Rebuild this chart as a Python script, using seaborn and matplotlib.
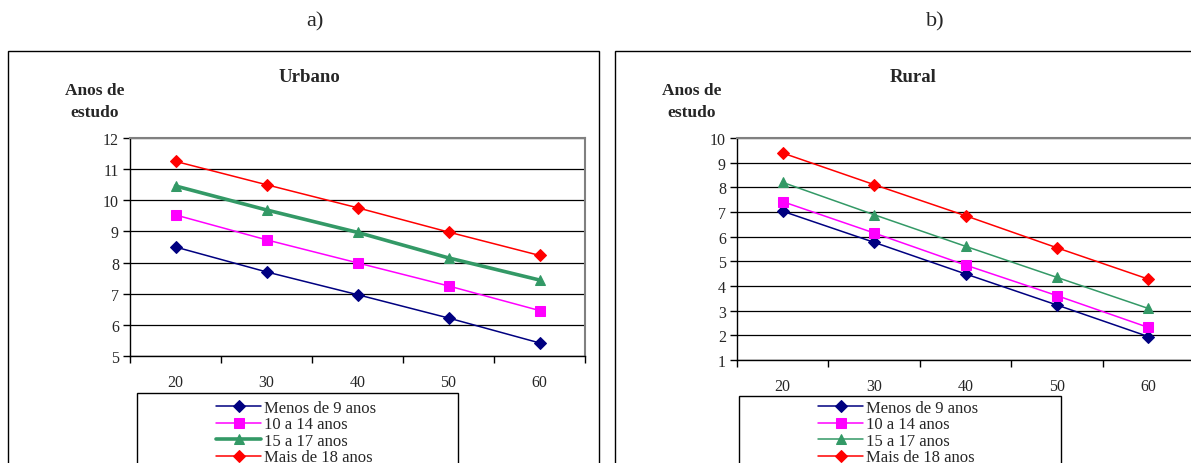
import matplotlib
matplotlib.use("Agg")
import matplotlib.pyplot as plt
from matplotlib.patches import Rectangle
import seaborn as sns
import pandas as pd

sns.set_style("white")
plt.rcParams['font.family'] = ['Liberation Serif', 'DejaVu Serif']

# idade (anos)
idades = [20, 30, 40, 50, 60]
grupos = ["Menos de 9 anos", "10 a 14 anos", "15 a 17 anos", "Mais de 18 anos"]

# anos de estudo - urbano
urb_menos9 = [8.50, 7.70, 6.97, 6.22, 5.42]
urb_10a14 = [9.53, 8.73, 7.99, 7.25, 6.46]
urb_15a17 = [10.46, 9.69, 8.97, 8.15, 7.44]
urb_mais18 = [11.25, 10.50, 9.76, 8.98, 8.23]

# anos de estudo - rural
rur_menos9 = [7.03, 5.77, 4.49, 3.23, 1.95]
rur_10a14 = [7.42, 6.15, 4.85, 3.61, 2.32]
rur_15a17 = [8.20, 6.89, 5.61, 4.35, 3.09]
rur_mais18 = [9.39, 8.11, 6.85, 5.55, 4.28]

cores = ["#000080", "#FF00FF", "#339966", "#FF0000"]
marcadores = ["D", "s", "^", "D"]
tam_marc = [6.5, 7, 7.5, 6.5]


def monta_df(series):
    linhas = []
    for g, vals in zip(grupos, series):
        for x, y in zip(idades, vals):
            linhas.append({'idade': x, 'anos': y, 'grupo': g})
    return pd.DataFrame(linhas)


df_urb = monta_df([urb_menos9, urb_10a14, urb_15a17, urb_mais18])
df_rur = monta_df([rur_menos9, rur_10a14, rur_15a17, rur_mais18])

fig = plt.figure(figsize=(11.91, 4.64), dpi=100)
W, H = 1191, 464


def fx(px):
    return px / W


def fy(py):
    return 1 - py / H


def painel(df, rect, ylim, larguras, titulo, tx, lx, box):
    ax = fig.add_axes(rect)
    for i, g in enumerate(grupos):
        sub = df[df['grupo'] == g]
        sns.lineplot(data=sub, x='idade', y='anos', ax=ax, color=cores[i],
                     marker=marcadores[i], markersize=tam_marc[i],
                     markeredgecolor=cores[i], lw=larguras[i], label=g)
    ax.set_xlim(15, 65)
    ax.set_ylim(*ylim)
    ax.set_yticks(range(ylim[0], ylim[1] + 1))
    ax.set_xticks(idades)
    ax.set_xticks([15, 25, 35, 45, 55, 65], minor=True)
    ax.tick_params(axis='x', which='major', length=0, pad=13, labelsize=11.5)
    ax.tick_params(axis='x', which='minor', length=5, width=1, direction='out',
                   color='black', bottom=True)
    ax.tick_params(axis='y', length=5, width=1, direction='out', color='black',
                   left=True, labelsize=11.5, pad=3)
    ax.grid(axis='y', color='black', lw=0.9)
    ax.set_axisbelow(True)
    ax.set_xlabel('')
    ax.set_ylabel('')
    for s in ['top', 'right']:
        ax.spines[s].set_color('#808080')
        ax.spines[s].set_linewidth(1.5)
    for s in ['left', 'bottom']:
        ax.spines[s].set_color('black')
        ax.spines[s].set_linewidth(1)
    handles, labels = ax.get_legend_handles_labels()
    ax.legend_.remove()
    fig.legend(handles, labels, loc='upper left',
               bbox_to_anchor=(fx(lx), fy(401)), frameon=False,
               fontsize=12, handlelength=2.7, handletextpad=0.2,
               labelspacing=0.03, borderpad=0, borderaxespad=0)
    fig.text(fx(tx[0]), fy(77), titulo, ha='center', va='center',
             fontsize=13.5, fontweight='bold')
    fig.text(fx(tx[1]), fy(91), 'Anos de', ha='center', va='center',
             fontsize=12.5, fontweight='bold')
    fig.text(fx(tx[1]), fy(113), 'estudo', ha='center', va='center',
             fontsize=12.5, fontweight='bold')
    fig.patches.append(Rectangle((fx(box[0]), fy(box[3])), fx(box[2] - box[0]),
                                 (box[3] - box[1]) / H, transform=fig.transFigure,
                                 fill=False, edgecolor='black', lw=1))
    return ax


# caixas externas dos graficos
fig.patches.append(Rectangle((fx(8), fy(470)), fx(591), fy(52) - fy(470),
                             transform=fig.transFigure, fill=False,
                             edgecolor='black', lw=1))
fig.patches.append(Rectangle((fx(615), fy(470)), fx(600), fy(52) - fy(470),
                             transform=fig.transFigure, fill=False,
                             edgecolor='black', lw=1))

painel(df_urb, [fx(130), fy(357), fx(455), fy(139) - fy(357)], (5, 12),
       [1.1, 1.1, 2.6, 1.1], 'Urbano', (309, 95), 216, (137, 394, 458, 470))
painel(df_rur, [fx(737), fy(361), fx(457), fy(139) - fy(361)], (1, 10),
       [1.1, 1.1, 1.1, 1.1], 'Rural', (913, 692), 818, (739, 397, 1061, 470))

fig.text(fx(315), fy(22), 'a)', ha='center', va='center', fontsize=16)
fig.text(fx(935), fy(22), 'b)', ha='center', va='center', fontsize=16)

fig.savefig('out.png', dpi=100)
